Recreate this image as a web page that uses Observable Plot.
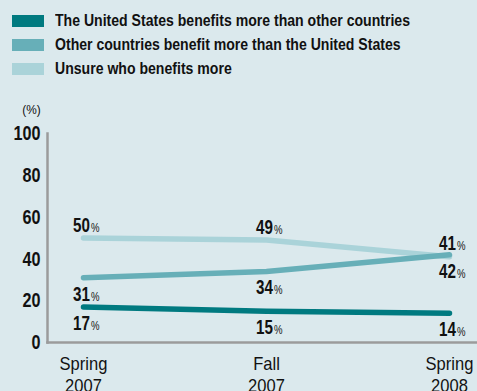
<!DOCTYPE html>
<html>
<head>
<meta charset="utf-8">
<script src="https://cdn.jsdelivr.net/npm/d3@7"></script>
<script src="https://cdn.jsdelivr.net/npm/@observablehq/plot@0.6"></script>
<style>
  html, body { margin: 0; padding: 0; background: #dbe9ed; }
  body { width: 477px; height: 391px; position: relative; overflow: hidden;
         font-family: "Liberation Sans", Arial, sans-serif; }
  #legend { position: absolute; left: 12px; top: 9px; }
  .row { display: flex; align-items: center; height: 24px; white-space: nowrap; }
  .sw { width: 32px; height: 12.5px; margin-right: 11px; flex: none; }
  .lab { font-size: 17px; font-weight: bold; color: #111; display: inline-block; transform-origin: 0 50%; }
  #chart { position: absolute; left: 0; top: 0; }
</style>
</head>
<body>
<div id="chart"></div>
<div id="legend"></div>
<script>
const periods = ["Spring 2007", "Fall 2007", "Spring 2008"];
const seriesNames = [
  "The United States benefits more than other countries",
  "Other countries benefit more than the United States",
  "Unsure who benefits more"
];
const seriesColors = ["#007a80", "#67afb8", "#aad3d9"];
const usMore = [17, 15, 14];
const otherMore = [31, 34, 42];
const unsure = [50, 49, 41];
const yTicks = [0, 20, 40, 60, 80, 100];

const valuesBySeries = [usMore, otherMore, unsure];
// draw order: unsure, other, us
const rows = [];
[2, 1, 0].forEach(si => {
  periods.forEach((p, i) => rows.push({ period: p, series: seriesNames[si], value: valuesBySeries[si][i], above: si === 2 }));
});

const legend = document.getElementById("legend");
seriesNames.forEach((n, i) => {
  const r = document.createElement("div");
  r.className = "row";
  r.innerHTML = `<div class="sw" style="background:${seriesColors[i]}"></div><span class="lab">${n}</span>`;
  legend.appendChild(r);
});

const ff = '"Liberation Sans", Arial, sans-serif';
const axisColor = "#9b9b9b";
const chart = Plot.plot({
  width: 477, height: 391,
  marginTop: 133, marginBottom: 49, marginLeft: 47, marginRight: 0,
  style: { background: "transparent", fontFamily: ff, color: "#111" },
  x: { type: "point", domain: periods, range: [83, 449], padding: 0 },
  y: { domain: [0, 100], range: [342, 133] },
  color: { domain: seriesNames, range: seriesColors },
  marks: [
    Plot.frame({ anchor: "left", stroke: axisColor, strokeWidth: 2.5 }),
    Plot.frame({ anchor: "bottom", stroke: axisColor, strokeWidth: 2.5 }),
    Plot.axisY({ ticks: yTicks, tickSize: 0, tickPadding: 7, fontSize: 21, fontWeight: "bold", label: null, className: "ytk" }),
    Plot.axisX({ tickSize: 0, tickPadding: 13, fontSize: 18, lineHeight: 1.17, label: null, className: "xtk",
                 tickFormat: d => d.replace(" ", "\n") }),
    Plot.text(["(%)"], { frameAnchor: "top-left", dx: -16, dy: -28, fontSize: 12.5, textAnchor: "middle", className: "pct" }),
    Plot.line(rows, { x: "period", y: "value", z: "series", stroke: "series", strokeWidth: 5.5, strokeLinecap: "round", strokeLinejoin: "round" }),
    Plot.text(rows.filter(d => d.above), { x: "period", y: "value", text: d => String(d.value), textAnchor: "end", lineAnchor: "bottom", dx: 6.5, dy: -6.5, fontSize: 19.5, fontWeight: "bold", className: "num" }),
    Plot.text(rows.filter(d => d.above), { x: "period", y: "value", text: () => "%", textAnchor: "start", lineAnchor: "bottom", dx: 7.5, dy: -6.5, fontSize: 12, className: "pc" }),
    Plot.text(rows.filter(d => !d.above), { x: "period", y: "value", text: d => String(d.value), textAnchor: "end", lineAnchor: "bottom", dx: 6.5, dy: 23, fontSize: 19.5, fontWeight: "bold", className: "num" }),
    Plot.text(rows.filter(d => !d.above), { x: "period", y: "value", text: () => "%", textAnchor: "start", lineAnchor: "bottom", dx: 7.5, dy: 23, fontSize: 12, className: "pc" })
  ]
});
document.getElementById("chart").appendChild(chart);

// condense text horizontally around its anchor (reference uses a condensed face)
function condense(sel, s) {
  chart.querySelectorAll(sel).forEach(t => {
    const bb = t.getBBox();
    const anchor = getComputedStyle(t).textAnchor;
    const ax = anchor === "end" ? bb.x + bb.width : anchor === "middle" ? bb.x + bb.width / 2 : bb.x;
    const tr = t.getAttribute("transform") || "";
    t.setAttribute("transform", `${tr} translate(${ax},0) scale(${s},1) translate(${-ax},0)`);
  });
}
condense(".ytk text", 0.77);
condense(".xtk text", 0.92);
condense(".num text", 0.78);
condense(".pc text", 0.8);
condense(".pct text", 0.95);

// legend: fit first line to reference width
const labs = legend.querySelectorAll(".lab");
const w0 = labs[0].getBoundingClientRect().width;
const f = 355 / w0;
labs.forEach(l => l.style.transform = `scaleX(${f})`);
</script>
</body>
</html>
